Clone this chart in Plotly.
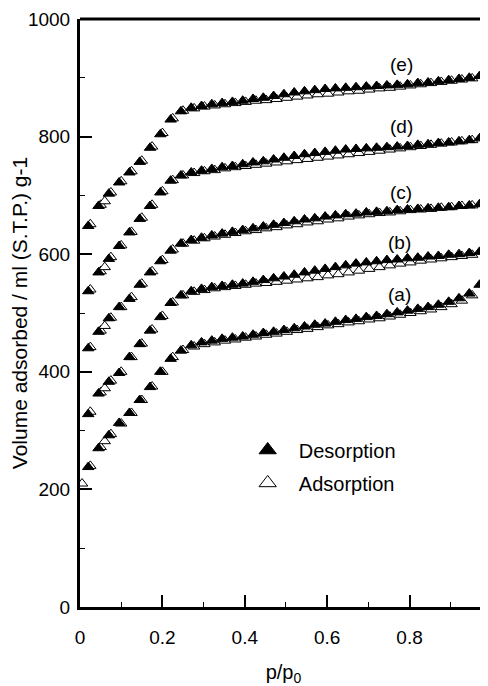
import plotly.graph_objects as go

# relative pressure p/p0 for desorption and adsorption points
des_x = [0.02, 0.045, 0.07, 0.095, 0.12, 0.145, 0.17, 0.195, 0.22, 0.245,
         0.27, 0.295, 0.32, 0.345, 0.37, 0.395, 0.42, 0.445, 0.47, 0.495,
         0.52, 0.545, 0.57, 0.595, 0.62, 0.645, 0.67, 0.695, 0.72, 0.745,
         0.77, 0.795, 0.82, 0.845, 0.87, 0.895, 0.92, 0.945, 0.97]
ads_x = [0.005, 0.025, 0.05, 0.06, 0.075, 0.1, 0.125, 0.15, 0.175, 0.2, 0.225,
         0.25, 0.277, 0.302, 0.327, 0.352, 0.377, 0.402, 0.427, 0.452, 0.477,
         0.502, 0.527, 0.552, 0.577, 0.602, 0.627, 0.652, 0.677, 0.702, 0.727,
         0.752, 0.777, 0.802, 0.827, 0.852, 0.877, 0.902, 0.927, 0.952, 0.985]

# Volume adsorbed (ml STP / g)
a_des = [238, 270, 292, 313, 330, 352, 374, 400, 422, 436, 445, 450, 453, 456, 458,
         460, 463, 466, 468, 471, 474, 477, 480, 482, 485, 488, 490, 493, 495, 498,
         501, 504, 507, 510, 514, 519, 525, 533, 548]
a_ads = [210, 240, 272, 282, 294, 312, 330, 352, 375, 400, 425, 437, 443, 447, 450,
         453, 455, 458, 460, 463, 465, 468, 471, 473, 476, 479, 481, 484, 486, 489,
         491, 494, 497, 500, 503, 506, 510, 515, 521, 530, 560]

b_des = [328, 363, 383, 398, 425, 447, 470, 493, 517, 530, 537, 541, 544, 546, 548,
         550, 553, 556, 559, 562, 565, 569, 572, 575, 578, 581, 584, 586, 588, 590,
         591, 593, 594, 596, 597, 599, 600, 602, 604]
b_ads = [None, 332, 365, 372, 385, 400, 425, 448, 472, 495, 518, 530, 536, 539, 542,
         544, 546, 548, 550, 551, 553, 555, 557, 559, 561, 564, 566, 569, 572, 575,
         578, 581, 584, 586, 589, 591, 593, 595, 597, 599, 604]

c_des = [440, 468, 491, 510, 524, 548, 569, 588, 606, 618, 624, 628, 632, 635, 638,
         641, 644, 647, 650, 653, 656, 659, 661, 664, 666, 668, 669, 671, 672, 673,
         675, 676, 677, 678, 679, 680, 682, 683, 685]
c_ads = [None, 442, 470, 478, 492, 510, 527, 550, 571, 590, 608, 618, 623, 627, 630,
         633, 636, 639, 641, 644, 646, 649, 651, 654, 656, 659, 661, 664, 666, 668,
         670, 671, 673, 675, 676, 677, 679, 680, 682, 683, 687]

d_des = [537, 569, 592, 614, 637, 660, 682, 705, 725, 734, 739, 742, 745, 748, 750,
         753, 756, 758, 761, 764, 767, 770, 772, 774, 776, 778, 779, 780, 781, 782,
         783, 784, 786, 787, 789, 790, 792, 794, 797]
d_ads = [None, 540, 571, 578, 595, 615, 638, 662, 684, 707, 726, 734, 738, 741, 743,
         746, 748, 750, 752, 754, 756, 758, 760, 762, 764, 766, 768, 770, 772, 774,
         776, 778, 780, 782, 784, 786, 788, 790, 792, 794, 800]

e_des = [648, 682, 703, 722, 739, 757, 781, 804, 829, 843, 849, 852, 855, 857, 859,
         861, 864, 866, 869, 872, 875, 877, 879, 881, 882, 883, 884, 885, 886, 887,
         888, 889, 891, 892, 894, 896, 898, 900, 903]
e_ads = [None, 651, 684, 690, 705, 724, 741, 759, 783, 806, 831, 844, 848, 851, 853,
         855, 857, 859, 861, 862, 864, 866, 868, 870, 872, 873, 875, 877, 878, 880,
         882, 883, 885, 887, 889, 891, 893, 895, 897, 899, 908]

labels = ["(a)", "(b)", "(c)", "(d)", "(e)"]
label_x = [0.775, 0.775, 0.78, 0.78, 0.78]
label_y = [532, 620, 705, 818, 922]

fig = go.Figure()

series = [(a_ads, a_des), (b_ads, b_des), (c_ads, c_des), (d_ads, d_des), (e_ads, e_des)]
for ads, des in series:
    fig.add_trace(go.Scatter(
        x=ads_x, y=ads, mode="markers", showlegend=False, hoverinfo="skip",
        marker=dict(symbol="triangle-up", size=10, color="white",
                    line=dict(color="black", width=1))))
    fig.add_trace(go.Scatter(
        x=des_x, y=des, mode="markers", showlegend=False, hoverinfo="skip",
        marker=dict(symbol="triangle-up", size=10, color="black",
                    line=dict(color="black", width=1))))

# legend proxies
fig.add_trace(go.Scatter(x=[None], y=[None], mode="markers", name="\u00a0\u00a0Desorption",
                         legend="legend",
                         marker=dict(symbol="triangle-up", size=15, color="black",
                                     line=dict(color="black", width=1))))
fig.add_trace(go.Scatter(x=[None], y=[None], mode="markers", name="\u00a0\u00a0Adsorption",
                         legend="legend2",
                         marker=dict(symbol="triangle-up", size=15, color="white",
                                     line=dict(color="black", width=1))))

font_family = "Liberation Sans"
for t, lx, ly in zip(labels, label_x, label_y):
    fig.add_annotation(x=lx, y=ly, text=t, showarrow=False,
                       font=dict(family=font_family, size=19, color="black"))

legend_common = dict(font=dict(family=font_family, size=20, color="black"),
                     bgcolor="rgba(0,0,0,0)", itemsizing="trace",
                     xanchor="left", yanchor="middle", borderwidth=0)
fig.update_layout(
    width=480, height=678,
    margin=dict(l=70, r=1, t=9, b=79),
    plot_bgcolor="white", paper_bgcolor="white",
    legend=dict(x=0.412, y=0.267, **legend_common),
    legend2=dict(x=0.412, y=0.211, **legend_common),
    xaxis=dict(range=[0, 0.988], showline=True, linewidth=3, linecolor="black",
               ticks="inside", ticklen=12, tickwidth=1.5, tickcolor="black",
               tick0=0, dtick=0.2, showgrid=False, zeroline=False,
               ticklabelstandoff=11, ticklabeloverflow="allow",
               minor=dict(ticks="inside", ticklen=5, tickwidth=1, tickcolor="black", dtick=0.1),
               tickfont=dict(family=font_family, size=19, color="black"),
               title=dict(text="p/p<sub>0</sub>", standoff=20,
                          font=dict(family=font_family, size=20, color="black"))),
    yaxis=dict(range=[0, 1000], showline=True, linewidth=3, linecolor="black",
               ticks="inside", ticklen=12, tickwidth=1.5, tickcolor="black",
               tick0=0, dtick=200, showgrid=False, zeroline=False,
               ticklabelstandoff=3, ticklabeloverflow="allow",
               minor=dict(ticks="inside", ticklen=5, tickwidth=1, tickcolor="black", dtick=100),
               tickfont=dict(family=font_family, size=19, color="black"),
               title=dict(text="Volume adsorbed / ml (S.T.P.) g-1", standoff=4,
                          font=dict(family=font_family, size=21, color="black"))),
    shapes=[
        dict(type="line", xref="paper", yref="paper", x0=0, x1=1, y0=1, y1=1,
             line=dict(color="black", width=3)),
        dict(type="line", xref="paper", yref="paper", x0=1, x1=1, y0=0, y1=1,
             line=dict(color="black", width=1)),
    ],
)

fig.write_html("out.html")
